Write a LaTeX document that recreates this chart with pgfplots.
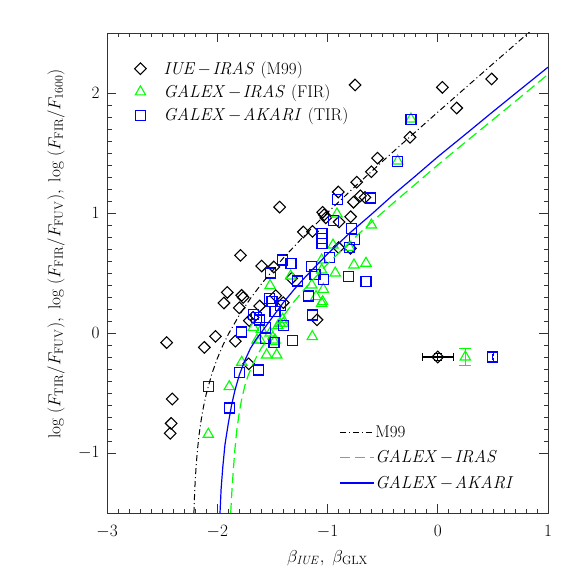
\documentclass[border=0pt]{standalone}
\usepackage{pgfplots}
\pgfplotsset{compat=1.18}
\usetikzlibrary{plotmarks}
\definecolor{pgreen}{rgb}{0,1,0}
\definecolor{pblue}{rgb}{0,0,1}
\newcommand{\dsh}{\mkern1.5mu{-}\mkern1.5mu}
\begin{document}
\begin{tikzpicture}[font=\fontsize{17}{20}\selectfont]
\useasboundingbox (-107pt,-68pt) rectangle (474pt,513pt);
\begin{axis}[
  scale only axis, width=441pt, height=480pt,
  xmin=-3, xmax=1, ymin=-1.5, ymax=2.5,
  xtick={-3,-2,-1,0,1}, ytick={-1,0,1,2},
  minor x tick num=9, minor y tick num=9,
  tick align=inside, tick pos=both,
  major tick length=9pt, minor tick length=4.5pt,
  axis line style={black!80, line width=0.8pt},
  every tick/.style={black!80, line width=0.6pt},
  xticklabel style={yshift=-9pt},
  yticklabel style={xshift=-4pt},
  xlabel={$\beta_{\mathit{IUE}},\ \beta_{\mathrm{GLX}}$},
  ylabel={$\log\ \bigl(F_{\mathrm{TIR}}/F_{\mathrm{FUV}}\bigr),\ \log\ \bigl(F_{\mathrm{FIR}}/F_{\mathrm{FUV}}\bigr),\ \log\ \bigl(F_{\mathrm{FIR}}/F_{1600}\bigr)$},
  every axis y label/.style={at={(axis description cs:-0.1156,0.54)}, rotate=90, anchor=center},
  every axis x label/.style={at={(axis description cs:0.5,-0.07)}, anchor=north},
  legend style={at={(axis description cs:0.0556,0.943)}, anchor=north west, draw=none, fill=none, inner sep=0pt, row sep=7pt, nodes={inner sep=1pt}},
  legend cell align=left,
  legend image code/.code={\path (0pt,-5pt) (30.5pt,5pt); \draw[mark repeat=2,mark phase=2,#1] plot coordinates {(0pt,0pt) (8.5pt,0pt) (30.5pt,0pt)};},
]
% IUE-IRAS (M99) diamonds
\addplot[only marks, black, mark=square, mark size=4.1pt, mark options={rotate=45, line width=1.1pt}] coordinates {
(-2.459,-0.08) (-2.408,-0.55) (-2.418,-0.753) (-2.427,-0.836) (-2.117,-0.12) (-2.016,-0.028)
(-1.789,0.647) (-1.909,0.338) (-1.939,0.25) (-1.778,0.314) (-1.765,0.296) (-1.80,0.21)
(-1.836,-0.068) (-1.715,-0.257) (-1.597,0.558) (-1.487,0.55) (-1.434,1.049) (-1.615,0.225)
(-1.709,0.103) (-1.675,0.13) (-1.47,0.311) (-1.401,0.253) (-1.325,0.456) (-1.219,0.842)
(-1.136,0.847) (-1.095,0.11) (-1.044,1.006) (-1.03,0.985) (-1.015,0.96) (-0.902,1.175)
(-0.895,0.925) (-0.9,0.712) (-0.79,0.969) (-0.792,0.706) (-0.764,1.09) (-0.735,1.257)
(-0.750,2.067) (-0.702,1.143) (-0.66,1.13) (-0.602,1.344) (-0.546,1.457) (-0.252,1.631)
(0.042,2.047) (0.172,1.875) (0.489,2.117)
};
\addlegendentry{$\mathit{IUE}\dsh\mathit{IRAS}$ (M99)}
% GALEX-IRAS triangles
\addplot[only marks, pgreen, mark=triangle, mark size=6pt, mark options={line width=1.1pt}] coordinates {
(-2.081,-0.844) (-1.891,-0.447) (-1.778,-0.244) (-1.673,0.047) (-1.612,-0.058) (-1.64,-0.06)
(-1.552,-0.183) (-1.461,-0.183) (-1.483,-0.072) (-1.521,0.395) (-1.476,-0.058) (-1.431,0.081)
(-1.407,0.114) (-1.401,0.081) (-1.334,0.475) (-1.138,-0.03) (-1.143,0.4) (-1.104,0.303)
(-1.044,0.261) (-1.038,0.364) (-1.053,0.608) (-1.053,0.525) (-1.053,0.247) (-0.95,0.733)
(-0.914,0.992) (-0.93,0.5) (-0.802,0.714) (-0.76,0.567) (-0.651,0.581) (-0.602,0.9)
(-0.364,1.433) (-0.243,1.783) (-1.6,0.03) (-1.52,0.0) (-1.45,0.06)
};
\addlegendentry{$\mathit{GALEX}\dsh\mathit{IRAS}$ (FIR)}
% GALEX-AKARI squares
\addplot[only marks, pblue, mark=square, mark size=5pt, mark options={line width=1.1pt}] coordinates {
(-2.081,-0.447) (-1.887,-0.625) (-1.797,-0.328) (-1.627,-0.308) (-1.778,0.008) (-1.673,0.152)
(-1.64,0.13) (-1.618,0.108) (-1.561,0.047) (-1.561,-0.047) (-1.485,-0.081) (-1.317,-0.065)
(-1.401,0.06) (-1.525,0.286) (-1.503,0.265) (-1.425,0.229) (-1.476,0.178) (-1.521,0.5)
(-1.411,0.608) (-1.331,0.581) (-1.272,0.433) (-1.174,0.308) (-1.137,0.15) (-1.143,0.553)
(-1.113,0.49) (-1.038,0.447) (-1.05,0.831) (-1.05,0.789) (-1.05,0.747) (-0.98,0.631)
(-0.947,0.934) (-0.912,1.114) (-0.802,0.71) (-0.812,0.469) (-0.779,0.872) (-0.759,0.781)
(-0.651,0.428) (-0.607,1.125) (-0.364,1.43) (-0.243,1.781)
};
\addlegendentry{$\mathit{GALEX}\dsh\mathit{AKARI}$ (TIR)}
% typical error bars
\addplot[forget plot, only marks, black, mark=square, mark size=4.1pt, mark options={rotate=45, line width=1.1pt},
  error bars/.cd, x dir=both, x explicit, y dir=both, y explicit, error bar style={line width=1.1pt}]
  coordinates {(0,-0.2) +- (0.14,0.03)};
\addplot[forget plot, only marks, pgreen, mark=triangle, mark size=6pt, mark options={line width=1.1pt},
  error bars/.cd, y dir=both, y explicit, error bar style={line width=1.1pt}]
  coordinates {(0.25,-0.2) +- (0,0.07)};
\addplot[forget plot, only marks, pblue, mark=square, mark size=5pt, mark options={line width=1.1pt},
  error bars/.cd, y dir=both, y explicit, error bar style={line width=1.1pt}, error mark options={mark size=2pt}]
  coordinates {(0.5,-0.2) +- (0,0.025)};
\end{axis}
\begin{axis}[
  scale only axis, width=441pt, height=480pt,
  xmin=-3, xmax=1, ymin=-1.5, ymax=2.5, hide axis,
  legend style={at={(axis description cs:0.526,0.184)}, anchor=north west, draw=none, fill=none, inner sep=0pt, row sep=10pt, nodes={inner sep=1pt}},
  legend cell align=left,
  legend image code/.code={\draw[#1] (0pt,0pt) -- (34pt,0pt);},
]
\addplot[black, line width=1pt, dash pattern=on 6pt off 3pt on 1pt off 3pt] coordinates {
(-2.2118,-1.5) (-2.205,-1.3285) (-2.2,-1.234) (-2.19,-1.089) (-2.18,-0.978) (-2.165,-0.85)
(-2.15,-0.749) (-2.125,-0.615) (-2.1,-0.509) (-2.05,-0.343) (-2.0,-0.2135) (-1.95,-0.105)
(-1.9,-0.011) (-1.8,0.149) (-1.7,0.2865) (-1.6,0.4085) (-1.4,0.6257) (-1.2,0.821)
(-1.0,1.0035) (-0.75,1.221) (-0.5,1.4313) (-0.25,1.637) (0,1.840) (0.25,2.042)
(0.5,2.243) (0.7,2.403) (0.85,2.523)
};
\addlegendentry{M99}
\addplot[pgreen, line width=1.2pt, dash pattern=on 10pt off 5pt] coordinates {
(-1.878,-1.5) (-1.866,-1.3) (-1.854,-1.14) (-1.84,-0.97) (-1.824,-0.82) (-1.8,-0.66)
(-1.778,-0.55) (-1.75,-0.44) (-1.718,-0.35) (-1.68,-0.265) (-1.642,-0.195) (-1.6,-0.125)
(-1.552,-0.065) (-1.5,0.005) (-1.4,0.142) (-1.3,0.265) (-1.2,0.375) (-1.0,0.575)
(-0.8,0.755) (-0.6,0.924) (-0.4,1.086) (-0.2,1.242) (0,1.40) (0.25,1.59)
(0.5,1.777) (0.75,1.965) (1.0,2.155)
};
\addlegendentry{$\mathit{GALEX}\dsh\mathit{IRAS}$}
\addplot[pblue, line width=1.2pt] coordinates {
(-1.975,-1.5) (-1.965,-1.3) (-1.95,-1.12) (-1.93,-0.93) (-1.9,-0.755) (-1.87,-0.6)
(-1.84,-0.48) (-1.8,-0.35) (-1.75,-0.23) (-1.7,-0.13) (-1.65,-0.055) (-1.6,0.005)
(-1.5,0.131) (-1.4,0.254) (-1.3,0.366) (-1.2,0.468) (-1.0,0.658) (-0.8,0.832)
(-0.6,0.99) (-0.4,1.155) (-0.2,1.31) (0,1.468) (0.25,1.655) (0.5,1.844)
(0.75,2.03) (1.0,2.215)
};
\addlegendentry{$\mathit{GALEX}\dsh\mathit{AKARI}$}
\end{axis}
\end{tikzpicture}
\end{document}
